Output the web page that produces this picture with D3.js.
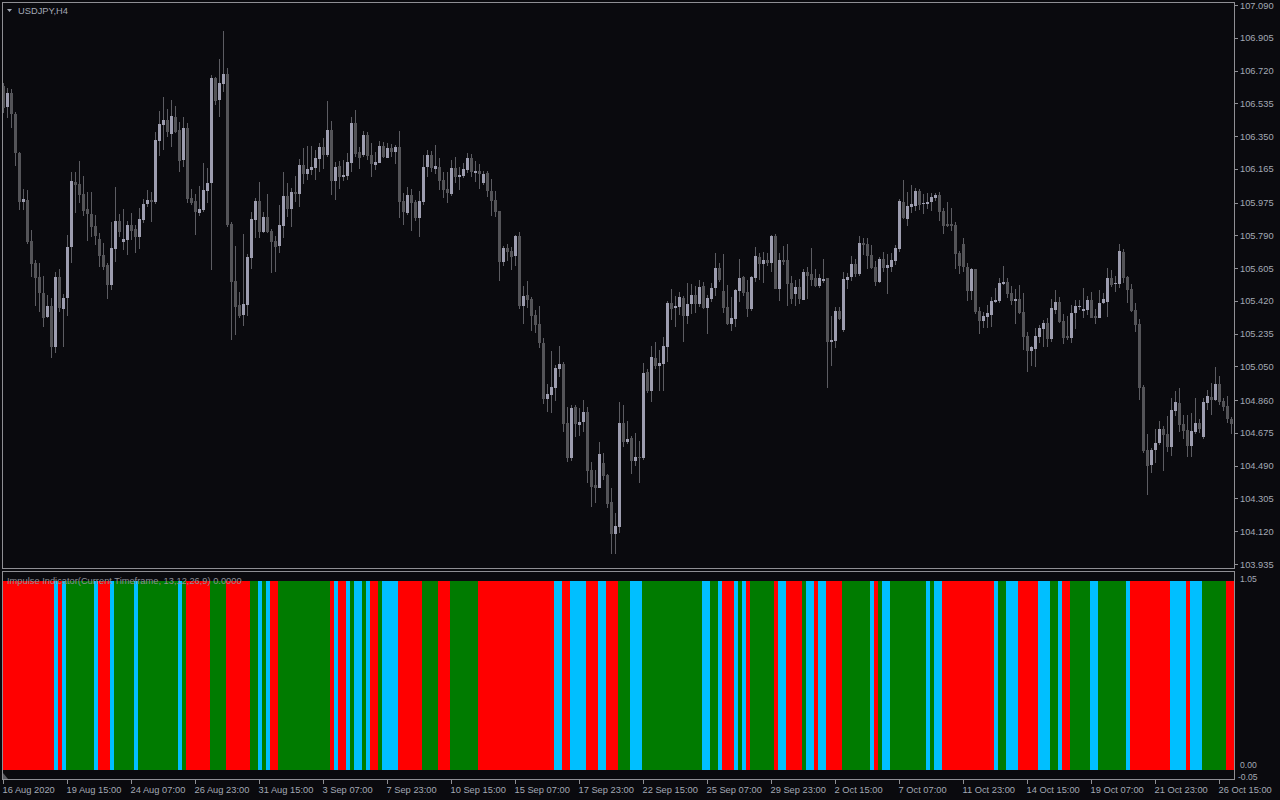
<!DOCTYPE html>
<html><head><meta charset="utf-8">
<script src="https://cdn.jsdelivr.net/npm/d3@7"></script>
<style>html,body{margin:0;padding:0;background:#0a0a0e;}svg{display:block;}</style>
</head><body>
<svg id="c" width="1280" height="800"></svg>
<script>
const symbolTitle = "USDJPY,H4";
const indicatorTitle = "Impulse Indicator(Current Timeframe, 13,12,26,9) 0.0000";
const priceTicks = ["107.090","106.905","106.720","106.535","106.350","106.165","105.975","105.790","105.605","105.420","105.235","105.050","104.860","104.675","104.490","104.305","104.120","103.935"];
const timeLabels = ["16 Aug 2020","19 Aug 15:00","24 Aug 07:00","26 Aug 23:00","31 Aug 15:00","3 Sep 07:00","7 Sep 23:00","10 Sep 15:00","15 Sep 07:00","17 Sep 23:00","22 Sep 15:00","25 Sep 07:00","29 Sep 23:00","2 Oct 15:00","7 Oct 07:00","11 Oct 23:00","14 Oct 15:00","19 Oct 07:00","21 Oct 23:00","26 Oct 15:00"];
const timeLabelBars = [0,16,32,48,64,80,96,112,128,144,160,176,192,208,224,240,256,272,288,304];
const indicatorTicks = [["1.05",1.05],["0.00",0.0],["-0.05",-0.05]];

const open = [106.633,106.514,106.593,106.474,106.254,105.978,105.989,105.757,105.634,105.554,105.464,105.328,105.391,105.159,105.554,105.374,105.436,105.724,106.091,106.079,106.023,105.938,105.910,105.842,105.769,105.679,105.623,105.510,105.712,105.871,105.752,105.763,105.848,105.825,105.780,105.876,105.966,105.989,105.978,106.322,106.413,106.441,106.362,106.458,106.384,106.215,106.396,106.001,105.983,105.916,105.933,106.040,106.085,106.678,106.554,106.644,106.700,105.854,105.532,105.397,105.340,105.397,105.662,105.876,105.983,105.808,105.893,105.814,105.757,105.729,105.842,106.012,105.938,106.035,106.023,106.187,106.136,106.159,106.170,106.221,106.288,106.243,106.384,106.096,106.181,106.119,106.125,106.198,106.424,106.260,106.243,106.356,106.243,106.187,106.198,106.294,106.226,106.283,106.260,106.288,105.983,105.916,106.018,105.978,105.888,105.978,106.175,106.243,106.164,106.175,106.102,106.051,106.023,106.170,106.119,106.125,106.159,106.226,106.142,106.153,106.085,106.142,106.040,105.989,105.927,105.640,105.718,105.701,105.673,105.786,105.391,105.453,105.430,105.340,105.289,105.182,104.866,104.889,104.928,105.035,105.064,104.731,104.533,104.821,104.720,104.737,104.793,104.465,104.381,104.364,104.505,104.437,104.285,104.104,104.144,104.731,104.624,104.646,104.516,104.539,104.533,105.018,104.911,105.097,105.052,105.064,105.159,105.408,105.380,105.385,105.436,105.334,105.402,105.453,105.402,105.504,105.380,105.430,105.492,105.606,105.476,105.385,105.289,105.317,105.476,105.554,105.470,105.374,105.549,105.667,105.628,105.651,105.634,105.786,105.487,105.651,105.651,105.521,105.459,105.498,105.425,105.583,105.572,105.549,105.504,105.532,105.549,105.188,105.193,105.363,105.256,105.538,105.554,105.628,105.572,105.746,105.740,105.679,105.611,105.526,105.656,105.606,105.611,105.645,105.712,105.978,105.882,105.950,105.955,106.040,105.966,105.966,105.978,106.001,106.018,105.927,105.854,105.854,105.848,105.690,105.740,105.611,105.476,105.600,105.363,105.306,105.328,105.340,105.413,105.419,105.515,105.526,105.464,105.419,105.430,105.357,105.221,105.137,105.148,105.216,105.261,105.295,105.205,105.368,105.413,105.306,105.221,105.210,105.351,105.385,105.363,105.368,105.425,105.334,105.323,105.408,105.413,105.549,105.515,105.515,105.696,105.554,105.487,105.368,105.289,104.934,104.578,104.494,104.578,104.618,104.697,104.669,104.595,104.798,104.843,104.725,104.691,104.601,104.680,104.731,104.652,104.843,104.877,104.860,104.951,104.855,104.826,104.753];
const high = [106.650,106.622,106.616,106.486,106.260,106.051,106.046,105.820,105.651,105.634,105.560,105.453,105.436,105.583,105.600,105.459,105.792,106.147,106.147,106.209,106.125,106.035,106.035,105.905,105.803,105.746,105.634,105.865,106.063,105.910,105.938,105.871,105.916,105.848,105.944,105.995,106.046,106.035,106.373,106.492,106.571,106.503,106.554,106.520,106.429,106.458,106.424,106.051,106.023,106.068,106.198,106.170,106.695,106.684,106.785,106.943,106.734,105.865,105.729,105.470,105.797,105.684,105.921,106.001,106.091,105.921,106.023,105.825,105.786,105.961,106.147,106.085,106.057,106.125,106.221,106.283,106.294,106.294,106.271,106.311,106.339,106.548,106.435,106.204,106.209,106.215,106.254,106.458,106.497,106.288,106.379,106.373,106.311,106.260,106.322,106.316,106.311,106.305,106.300,106.379,106.029,106.063,106.051,105.989,106.040,106.243,106.271,106.266,106.300,106.226,106.147,106.147,106.215,106.232,106.175,106.198,106.254,106.249,106.209,106.192,106.153,106.153,106.108,106.040,105.927,105.729,105.740,105.724,105.792,105.808,105.504,105.532,105.442,105.368,105.391,105.210,104.951,105.137,105.058,105.165,105.075,104.821,104.832,104.832,104.815,104.860,104.821,104.511,104.465,104.624,104.561,104.443,104.364,104.223,104.849,104.832,104.742,104.657,104.674,104.629,105.069,105.035,105.165,105.188,105.143,105.216,105.419,105.487,105.447,105.470,105.447,105.521,105.515,105.504,105.538,105.526,105.453,105.521,105.690,105.634,105.684,105.510,105.442,105.487,105.656,105.560,105.538,105.560,105.724,105.690,105.696,105.690,105.792,105.797,105.690,105.729,105.740,105.560,105.538,105.543,105.600,105.611,105.718,105.600,105.572,105.656,105.549,105.334,105.385,105.385,105.583,105.577,105.673,105.656,105.786,105.774,105.774,105.735,105.645,105.667,105.696,105.684,105.690,105.735,105.995,106.102,106.035,106.074,106.057,106.051,106.023,106.029,106.029,106.029,106.035,105.944,105.978,105.944,105.865,105.701,105.774,105.634,105.606,105.600,105.385,105.357,105.397,105.442,105.492,105.549,105.617,105.549,105.504,105.487,105.510,105.464,105.244,105.165,105.267,105.284,105.312,105.323,105.430,105.481,105.442,105.346,105.334,105.397,105.425,105.425,105.492,105.447,105.470,105.374,105.481,105.464,105.606,105.594,105.560,105.740,105.712,105.560,105.515,105.408,105.317,104.945,104.669,104.590,104.697,104.742,104.714,104.770,104.872,104.911,104.928,104.776,104.776,104.787,104.872,104.753,104.872,104.917,104.956,105.047,104.996,104.872,104.883,104.765];
const low = [106.480,106.452,106.396,106.181,105.933,105.933,105.740,105.554,105.391,105.357,105.273,105.323,105.097,105.126,105.357,105.159,105.334,105.634,105.916,105.972,105.899,105.757,105.780,105.735,105.611,105.594,105.430,105.481,105.640,105.780,105.707,105.679,105.763,105.690,105.712,105.859,105.950,105.865,105.966,106.238,106.271,106.345,106.288,106.367,106.147,106.175,105.972,105.961,105.792,105.899,105.921,105.972,105.594,106.525,106.458,106.599,105.837,105.199,105.228,105.323,105.278,105.334,105.600,105.774,105.774,105.803,105.803,105.577,105.583,105.690,105.774,105.893,105.837,105.978,105.950,106.079,106.102,106.130,106.102,106.147,106.164,106.232,106.018,105.989,106.051,106.096,106.102,106.147,106.232,106.164,106.232,106.215,106.119,106.159,106.198,106.226,106.226,106.232,106.192,105.888,105.848,105.905,105.814,105.871,105.780,105.961,106.119,106.147,106.136,106.046,106.001,105.972,106.012,106.085,106.046,106.113,106.142,106.119,106.091,106.051,106.074,106.006,105.899,105.893,105.532,105.617,105.645,105.594,105.617,105.374,105.289,105.380,105.250,105.239,105.154,104.838,104.793,104.787,104.855,104.990,104.680,104.511,104.516,104.652,104.657,104.680,104.392,104.257,104.279,104.364,104.409,104.251,103.991,103.991,104.110,104.595,104.612,104.443,104.488,104.392,104.522,104.900,104.849,105.035,104.911,104.911,105.075,105.312,105.273,105.340,105.188,105.289,105.346,105.351,105.385,105.374,105.233,105.413,105.447,105.526,105.351,105.284,105.250,105.273,105.413,105.447,105.328,105.363,105.526,105.538,105.521,105.617,105.583,105.487,105.419,105.623,105.391,105.402,105.391,105.402,105.425,105.430,105.504,105.498,105.492,105.521,104.928,105.052,105.154,105.312,105.244,105.487,105.532,105.554,105.560,105.679,105.600,105.600,105.504,105.521,105.583,105.459,105.583,105.623,105.696,105.882,105.842,105.916,105.927,105.933,105.910,105.938,105.927,105.983,105.871,105.797,105.837,105.814,105.600,105.572,105.583,105.419,105.425,105.346,105.233,105.267,105.267,105.273,105.408,105.408,105.510,105.436,105.397,105.289,105.346,105.143,105.018,105.052,105.047,105.182,105.159,105.159,105.188,105.346,105.295,105.176,105.199,105.182,105.261,105.368,105.323,105.340,105.323,105.289,105.323,105.402,105.328,105.498,105.470,105.492,105.521,105.408,105.357,105.244,104.860,104.561,104.324,104.448,104.505,104.607,104.460,104.567,104.545,104.770,104.680,104.641,104.539,104.539,104.669,104.674,104.641,104.804,104.776,104.855,104.832,104.798,104.731,104.669];
const close = [106.509,106.593,106.474,106.254,105.978,105.995,105.752,105.628,105.549,105.464,105.323,105.391,105.159,105.554,105.380,105.436,105.724,106.096,106.074,106.018,105.927,105.910,105.837,105.786,105.673,105.611,105.510,105.718,105.871,105.808,105.769,105.848,105.814,105.780,105.882,105.966,105.989,105.978,106.328,106.418,106.441,106.373,106.463,106.373,106.209,106.396,105.995,105.972,105.921,105.938,106.046,106.085,106.678,106.548,106.650,106.700,105.848,105.526,105.385,105.334,105.402,105.667,105.882,105.983,105.808,105.893,105.808,105.752,105.724,105.848,106.012,105.938,106.035,106.023,106.187,106.136,106.164,106.175,106.226,106.288,106.243,106.384,106.096,106.175,106.119,106.130,106.204,106.424,106.249,106.226,106.356,106.238,106.192,106.204,106.294,106.232,106.283,106.260,106.288,105.978,105.921,106.018,105.972,105.888,105.983,106.175,106.243,106.170,106.181,106.096,106.046,106.029,106.170,106.119,106.130,106.164,106.226,106.147,106.153,106.136,106.136,106.040,105.983,105.921,105.640,105.718,105.696,105.667,105.786,105.391,105.447,105.425,105.334,105.284,105.182,104.866,104.894,104.934,105.041,105.064,104.725,104.533,104.815,104.725,104.737,104.793,104.460,104.369,104.364,104.556,104.432,104.273,104.104,104.149,104.731,104.624,104.641,104.516,104.539,104.533,105.013,104.911,105.103,105.052,105.069,105.165,105.408,105.374,105.391,105.442,105.334,105.402,105.453,105.402,105.498,105.380,105.436,105.492,105.606,105.538,105.380,105.289,105.323,105.481,105.549,105.464,105.374,105.554,105.673,105.628,105.651,105.634,105.786,105.487,105.651,105.640,105.515,105.430,105.498,105.430,105.583,105.560,105.538,105.504,105.549,105.543,105.188,105.199,105.363,105.317,105.543,105.554,105.628,105.572,105.746,105.735,105.673,105.606,105.526,105.656,105.606,105.623,105.651,105.718,105.983,105.888,105.955,105.966,106.040,105.961,105.972,105.978,106.006,106.018,105.921,105.842,105.842,105.842,105.684,105.617,105.611,105.476,105.600,105.357,105.306,105.334,105.351,105.419,105.425,105.521,105.526,105.459,105.419,105.430,105.351,105.216,105.137,105.159,105.221,105.267,105.295,105.205,105.380,105.413,105.301,105.210,105.210,105.351,105.391,105.391,105.374,105.425,105.323,105.323,105.408,105.430,105.549,105.510,105.521,105.701,105.549,105.481,105.363,105.284,104.928,104.572,104.488,104.578,104.618,104.697,104.663,104.595,104.804,104.849,104.720,104.686,104.601,104.686,104.731,104.697,104.849,104.883,104.860,104.951,104.849,104.821,104.753,104.725];
// Impulse state per bar: R = bearish (red), G = bullish (green), C = neutral (blue)
const impulseState = ("RRRRRRRRRR RRRCRCGGGG GGGCRRRCGG GGGCGGGGGG GGGGCGRRRR RRGGGGRRRR RRGGCGCRRG GGGGGGGGGG GGRCRRCGCC GCRRGCCCCR " +
  "RRRRRGGGGR RRGGGGGGGR RRRRRRRRRR RRRRRRRRCC RRCCCCRRRC CRRRGGGCCC GGGGGGGGGG GGGGGCCGGC RRRCGCRGGG GGGRCCRRRR " +
  "GCCRCCRRRR GGGGGGGCRG CCGGGGGGGG GCGCCRRRRR RRRRRRRRCG GCCCRRRRRC CCGGCRRGGG GGCCGGGGGG GCRRRRRRRR RRCCCCRCCC GGGGGGRR").replace(/ /g,"").split("");
const impulseLevel = 1.0;

const colors = {bg:"#0a0a0e", border:"#8f8f94", text:"#a3a9b5", bull:"#9d9daf", bear:"#545458", wick:"#5c5c62",
  R:"#ff0000", G:"#007b00", C:"#00bfff"};

const svg = d3.select("#c");
svg.append("rect").attr("width",1280).attr("height",800).attr("fill",colors.bg);

const n = open.length;
const x = d3.scaleLinear().domain([0, n-1]).range([3.5, 1231.5]);
const y = d3.scaleLinear().domain([103.935, 107.090]).range([564, 5]);
const yi = d3.scaleLinear().domain([-0.05, 1.05]).range([779, 572]);

const defs = svg.append("defs");
defs.append("clipPath").attr("id","mainClip").append("rect").attr("x",3).attr("y",3).attr("width",1231).attr("height",565);
defs.append("clipPath").attr("id","indClip").append("rect").attr("x",3).attr("y",572).attr("width",1231).attr("height",207);

// Indicator histogram
const ind = svg.append("g").attr("clip-path","url(#indClip)").attr("shape-rendering","crispEdges");
ind.selectAll("rect").data(impulseState).join("rect")
  .attr("x",(d,i)=>x(i)-2).attr("width",4)
  .attr("y",yi(impulseLevel)).attr("height",yi(0)-yi(impulseLevel))
  .attr("fill",d=>colors[d]);

// Candles
const idx = d3.range(n);
const cg = svg.append("g").attr("clip-path","url(#mainClip)").attr("shape-rendering","crispEdges");
cg.selectAll("rect.w").data(idx).join("rect").attr("class","w")
  .attr("x",i=>x(i)-0.5).attr("width",1)
  .attr("y",i=>Math.round(y(high[i]))).attr("height",i=>Math.max(1,Math.round(y(low[i]))-Math.round(y(high[i]))))
  .attr("fill",colors.wick);
cg.selectAll("rect.b").data(idx).join("rect").attr("class","b")
  .attr("x",i=>x(i)-1.5).attr("width",3)
  .attr("y",i=>Math.round(y(Math.max(open[i],close[i]))))
  .attr("height",i=>Math.max(1,Math.round(y(Math.min(open[i],close[i])))-Math.round(y(Math.max(open[i],close[i])))))
  .attr("fill",i=>close[i]>=open[i]?colors.bull:colors.bear);

// Frames
const frame = svg.append("g").attr("fill","none").attr("stroke",colors.border).attr("stroke-width",1).attr("shape-rendering","crispEdges");
frame.append("rect").attr("x",2.5).attr("y",2.5).attr("width",1232).attr("height",566);
frame.append("rect").attr("x",2.5).attr("y",571.5).attr("width",1232).attr("height",208);

// Price axis
const pa = svg.append("g").attr("shape-rendering","crispEdges");
priceTicks.forEach(t=>{
  const yy = Math.round(y(+t))+0.5;
  pa.append("line").attr("x1",1235).attr("x2",1238).attr("y1",yy).attr("y2",yy).attr("stroke",colors.border);
});
svg.append("g").selectAll("text").data(priceTicks).join("text")
  .attr("x",1240).attr("y",t=>y(+t)+3.5).text(t=>t)
  .attr("fill",colors.text).attr("font-family","Liberation Sans, Arial, sans-serif").attr("font-size","9.3px");

// Indicator axis
svg.append("g").selectAll("text").data(indicatorTicks).join("text")
  .attr("x",d=>d[1]<0?1238:1240)
  .attr("y",d=>d[1]>1?yi(d[1])+9.5:(d[1]<0?yi(d[1])+0.5:yi(d[1])-2))
  .text(d=>d[0]).attr("fill",colors.text).attr("font-family","Liberation Sans, Arial, sans-serif").attr("font-size","8.6px");

// Time axis
const ta = svg.append("g");
timeLabelBars.forEach((b,k)=>{
  const xx = Math.round(x(b)-0.5)+0.5;
  ta.append("line").attr("x1",xx).attr("x2",xx).attr("y1",780).attr("y2",784).attr("stroke",colors.border).attr("shape-rendering","crispEdges");
  ta.append("text").attr("x",xx-1).attr("y",792.5).text(timeLabels[k])
    .attr("fill",colors.text).attr("font-family","Liberation Sans, Arial, sans-serif").attr("font-size","9.3px");
});

// Shift marker
svg.append("path").attr("d","M3,773 L3,779 L8,779 Z").attr("fill","#5a5a60");

// Titles
svg.append("path").attr("d","M7,9 L12,9 L9.5,12 Z").attr("fill",colors.text);
svg.append("text").attr("x",18).attr("y",14).text(symbolTitle)
  .attr("fill",colors.text).attr("font-family","Liberation Sans, Arial, sans-serif").attr("font-size","9.3px");
svg.append("text").attr("x",7).attr("y",583.5).text(indicatorTitle)
  .attr("fill","#8c8f96").attr("font-family","Liberation Sans, Arial, sans-serif").attr("font-size","9.3px");
</script>
</body></html>
